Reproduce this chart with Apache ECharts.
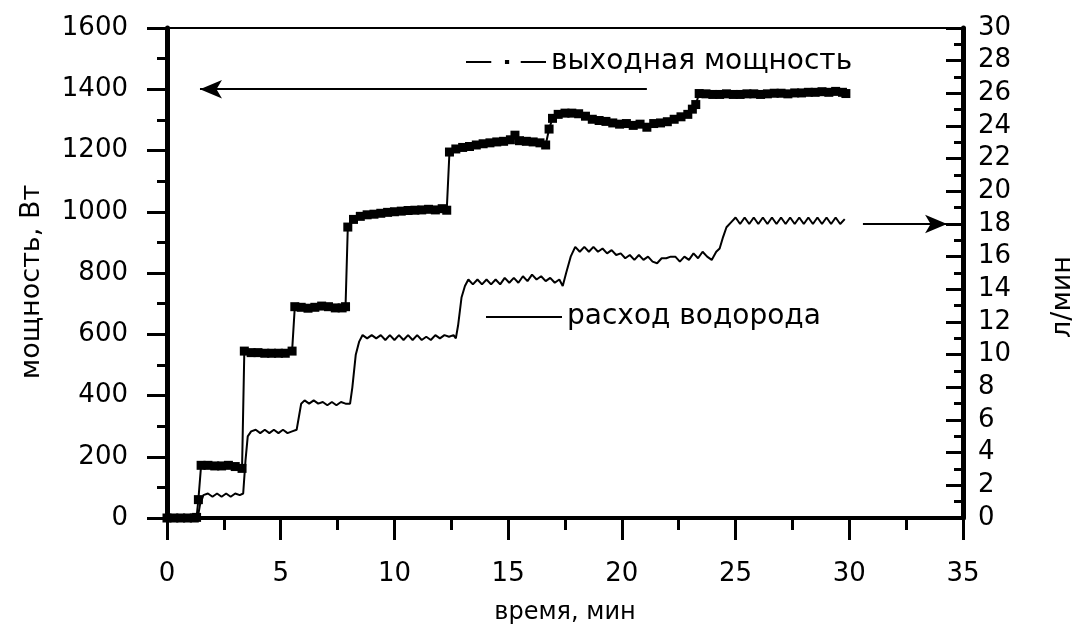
<!DOCTYPE html>
<html>
<head>
<meta charset="utf-8">
<script src="https://cdn.jsdelivr.net/npm/echarts@6/dist/echarts.min.js"></script>
<style>
  html, body { margin: 0; padding: 0; background: #fff; }
  #chart { width: 1077px; height: 634px; }
</style>
</head>
<body>
<div id="chart"></div>
<script>
// Output power of the generator, [time (min), power (W)]
const powerReadings = [
  [0, 0], [0.3, 0], [0.6, 0], [0.9, 0], [1.2, 0], [1.3, 2],
  [1.38, 60],
  [1.5, 172], [1.8, 172], [2.1, 170], [2.4, 170], [2.7, 172], [3.0, 168], [3.3, 162],
  [3.4, 545], [3.7, 540], [4.0, 540], [4.3, 538], [4.6, 538], [4.9, 538], [5.2, 538], [5.5, 545],
  [5.62, 690], [5.9, 688], [6.2, 685], [6.5, 688], [6.8, 692], [7.1, 690], [7.4, 686], [7.7, 686], [7.85, 690],
  [7.95, 950], [8.2, 975], [8.5, 985], [8.8, 990], [9.1, 992], [9.4, 995], [9.7, 998], [10.0, 1000],
  [10.3, 1002], [10.6, 1004], [10.9, 1005], [11.2, 1006], [11.5, 1008], [11.8, 1006], [12.1, 1010], [12.3, 1005],
  [12.42, 1195], [12.7, 1205], [13.0, 1210], [13.3, 1213], [13.6, 1218], [13.9, 1222], [14.2, 1225],
  [14.5, 1228], [14.8, 1230], [15.1, 1235], [15.3, 1250], [15.5, 1232], [15.8, 1230], [16.1, 1228],
  [16.4, 1225], [16.65, 1218],
  [16.8, 1270], [16.95, 1305], [17.2, 1318], [17.5, 1322], [17.8, 1322], [18.1, 1320], [18.4, 1312],
  [18.7, 1302], [19.0, 1298], [19.3, 1295], [19.6, 1290], [19.9, 1286], [20.2, 1288], [20.5, 1282],
  [20.8, 1286], [21.1, 1276], [21.4, 1288], [21.7, 1290], [22.0, 1294], [22.3, 1302], [22.6, 1310],
  [22.9, 1318], [23.1, 1335], [23.25, 1350],
  [23.4, 1386], [23.7, 1385], [24.0, 1383], [24.3, 1383], [24.6, 1385], [24.9, 1383], [25.2, 1383],
  [25.5, 1385], [25.8, 1385], [26.1, 1383], [26.4, 1385], [26.7, 1387], [27.0, 1387], [27.3, 1385],
  [27.6, 1388], [27.9, 1388], [28.2, 1390], [28.5, 1390], [28.8, 1392], [29.1, 1390], [29.4, 1393],
  [29.7, 1390], [29.85, 1386]
];

// Hydrogen consumption, [time (min), flow (l/min)]
const flowReadings = [
  [0, 0], [1.35, 0], [1.45, 0.8], [1.6, 1.4], [1.8, 1.5], [2.0, 1.3], [2.2, 1.5], [2.4, 1.3],
  [2.6, 1.5], [2.8, 1.3], [3.0, 1.5], [3.2, 1.4], [3.35, 1.5],
  [3.45, 3.5], [3.55, 5.0], [3.7, 5.3], [3.9, 5.4], [4.1, 5.2], [4.3, 5.4], [4.5, 5.2], [4.7, 5.4],
  [4.9, 5.2], [5.1, 5.4], [5.3, 5.2], [5.5, 5.3], [5.7, 5.4],
  [5.8, 6.2], [5.9, 7.0], [6.05, 7.2], [6.25, 7.0], [6.45, 7.2], [6.65, 7.0], [6.85, 7.1], [7.05, 6.9],
  [7.25, 7.1], [7.45, 6.9], [7.65, 7.1], [7.85, 7.0], [8.05, 7.0],
  [8.15, 8.0], [8.3, 10.0], [8.45, 10.8], [8.6, 11.2], [8.8, 11.0], [9.0, 11.2], [9.2, 11.0], [9.4, 11.2],
  [9.6, 10.9], [9.8, 11.2], [10.0, 10.9], [10.2, 11.2], [10.4, 10.9], [10.6, 11.2], [10.8, 10.9],
  [11.0, 11.2], [11.2, 10.9], [11.4, 11.1], [11.6, 10.9], [11.8, 11.2], [12.0, 11.0], [12.2, 11.2],
  [12.4, 11.1], [12.6, 11.2], [12.7, 11.0],
  [12.8, 11.8], [12.95, 13.5], [13.1, 14.2], [13.25, 14.6], [13.45, 14.3], [13.65, 14.6], [13.85, 14.3],
  [14.05, 14.6], [14.25, 14.3], [14.45, 14.6], [14.65, 14.3], [14.85, 14.7], [15.05, 14.4], [15.25, 14.7],
  [15.45, 14.4], [15.65, 14.8], [15.85, 14.5], [16.05, 14.9], [16.25, 14.6], [16.45, 14.8], [16.65, 14.5],
  [16.85, 14.7], [17.05, 14.4], [17.25, 14.6], [17.4, 14.2],
  [17.55, 15.0], [17.75, 16.0], [17.95, 16.6], [18.15, 16.3], [18.35, 16.6], [18.55, 16.3], [18.75, 16.6],
  [18.95, 16.3], [19.15, 16.5], [19.35, 16.2], [19.55, 16.4], [19.75, 16.1], [19.95, 16.2], [20.15, 15.9],
  [20.35, 16.1], [20.55, 15.8], [20.75, 16.1], [20.95, 15.8], [21.15, 16.0], [21.35, 15.7], [21.55, 15.6],
  [21.75, 15.9], [21.95, 15.9], [22.15, 16.0], [22.35, 16.0], [22.55, 15.7], [22.75, 16.0], [22.95, 15.8],
  [23.15, 16.2], [23.35, 15.9], [23.55, 16.3], [23.75, 16.0], [23.95, 15.8], [24.15, 16.3], [24.3, 16.5],
  [24.45, 17.2], [24.6, 17.8], [24.8, 18.1], [25.0, 18.4], [25.2, 18.0], [25.4, 18.4], [25.6, 18.0],
  [25.8, 18.4], [26.0, 18.0], [26.2, 18.4], [26.4, 18.0], [26.6, 18.4], [26.8, 18.0], [27.0, 18.4],
  [27.2, 18.0], [27.4, 18.4], [27.6, 18.0], [27.8, 18.4], [28.0, 18.0], [28.2, 18.4], [28.4, 18.0],
  [28.6, 18.4], [28.8, 18.0], [29.0, 18.4], [29.2, 18.0], [29.4, 18.4], [29.6, 18.0], [29.8, 18.3]
];

// Series names and axis titles
const powerName = 'выходная мощность';
const flowName = 'расход водорода';
const xTitle = 'время, мин';
const leftTitle = 'мощность, Вт';
const rightTitle = 'л/мин';

// Axis ranges and steps
const xRange = [0, 35, 5];
const powerRange = [0, 1600, 200];
const flowRange = [0, 30, 2];

// Arrows pointing each curve to its axis: [fromX, toX, level]
const powerArrow = [21.1, 1.45, 1400];
const flowArrow = [30.6, 34.3, 18];

const FONT = 'DejaVu Sans';
const INK = '#000';
const plain = v => String(v);

const chart = echarts.init(document.getElementById('chart'));

chart.setOption({
  animation: false,
  backgroundColor: '#fff',
  textStyle: { fontFamily: FONT, color: INK },
  grid: {
    left: 167, right: 114, top: 28, bottom: 116,
    outerBoundsMode: 'none', containLabel: false,
    show: true, borderColor: INK, borderWidth: 2, backgroundColor: 'transparent'
  },
  legend: [
    {
      data: [{ name: powerName, icon: 'path://M0,0H24V2H0Z M37,-1H41V3H37Z M52,0H76V2H52Z' }],
      left: 466, top: 48, padding: 0, itemWidth: 80, itemHeight: 14, selectedMode: false,
      textStyle: { fontFamily: FONT, fontSize: 28, color: INK }
    },
    {
      data: [{ name: flowName, icon: 'path://M0,0H73V2H0Z' }],
      left: 486, top: 303, padding: 0, itemWidth: 76, itemHeight: 14, selectedMode: false,
      textStyle: { fontFamily: FONT, fontSize: 28, color: INK }
    }
  ],
  xAxis: {
    type: 'value',
    min: xRange[0], max: xRange[1], interval: xRange[2],
    name: xTitle, nameLocation: 'middle', nameGap: 83,
    nameTextStyle: { fontFamily: FONT, fontSize: 24, color: INK },
    axisLine: { show: true, onZero: false, lineStyle: { color: INK, width: 4 } },
    axisTick: { show: true, inside: false, length: 22, lineStyle: { color: INK, width: 3 } },
    minorTick: { show: true, splitNumber: 2, length: 12, lineStyle: { color: INK, width: 3 } },
    axisLabel: { margin: 43, fontFamily: FONT, fontSize: 26, color: INK, formatter: plain },
    splitLine: { show: false }
  },
  yAxis: [
    {
      type: 'value', position: 'left',
      min: powerRange[0], max: powerRange[1], interval: powerRange[2],
      name: leftTitle, nameLocation: 'middle', nameGap: 122, nameRotate: 90,
      nameTextStyle: { fontFamily: FONT, fontSize: 27, color: INK, padding: [0, 18, 0, 0] },
      axisLine: { show: true, onZero: false, lineStyle: { color: INK, width: 5 } },
      axisTick: { show: true, inside: false, length: 20, lineStyle: { color: INK, width: 3 } },
      minorTick: { show: true, splitNumber: 2, length: 10, lineStyle: { color: INK, width: 3 } },
      axisLabel: { margin: 39, fontFamily: FONT, fontSize: 26, color: INK, formatter: plain },
      splitLine: { show: false }
    },
    {
      type: 'value', position: 'right',
      min: flowRange[0], max: flowRange[1], interval: flowRange[2],
      name: rightTitle, nameLocation: 'middle', nameGap: 86, nameRotate: 90,
      nameTextStyle: { fontFamily: FONT, fontSize: 27, color: INK, padding: [0, 48, 0, 0] },
      axisLine: { show: true, onZero: false, lineStyle: { color: INK, width: 5 } },
      axisTick: { show: true, inside: true, length: 17, lineStyle: { color: INK, width: 3 } },
      minorTick: { show: true, splitNumber: 2, length: 9, lineStyle: { color: INK, width: 3 } },
      axisLabel: { margin: 15, fontFamily: FONT, fontSize: 26, color: INK, formatter: plain },
      splitLine: { show: false }
    }
  ],
  series: [
    {
      name: powerName,
      type: 'line',
      yAxisIndex: 0,
      data: powerReadings,
      symbol: 'rect', symbolSize: 9, showAllSymbol: true,
      itemStyle: { color: INK },
      lineStyle: { color: INK, width: 2 },
      z: 3,
      markLine: {
        silent: true,
        symbol: ['none', 'arrow'],
        symbolSize: [14, 22],
        label: { show: false },
        lineStyle: { color: INK, width: 2, type: 'solid' },
        data: [[
          { coord: [powerArrow[0], powerArrow[2]] },
          { coord: [powerArrow[1], powerArrow[2]] }
        ]]
      }
    },
    {
      name: flowName,
      type: 'line',
      yAxisIndex: 1,
      data: flowReadings,
      symbol: 'none',
      itemStyle: { color: INK },
      lineStyle: { color: INK, width: 2 },
      z: 2,
      markLine: {
        silent: true,
        symbol: ['none', 'arrow'],
        symbolSize: [14, 22],
        label: { show: false },
        lineStyle: { color: INK, width: 2, type: 'solid' },
        data: [[
          { coord: [flowArrow[0], flowArrow[2]] },
          { coord: [flowArrow[1], flowArrow[2]] }
        ]]
      }
    }
  ]
});
</script>
</body>
</html>
